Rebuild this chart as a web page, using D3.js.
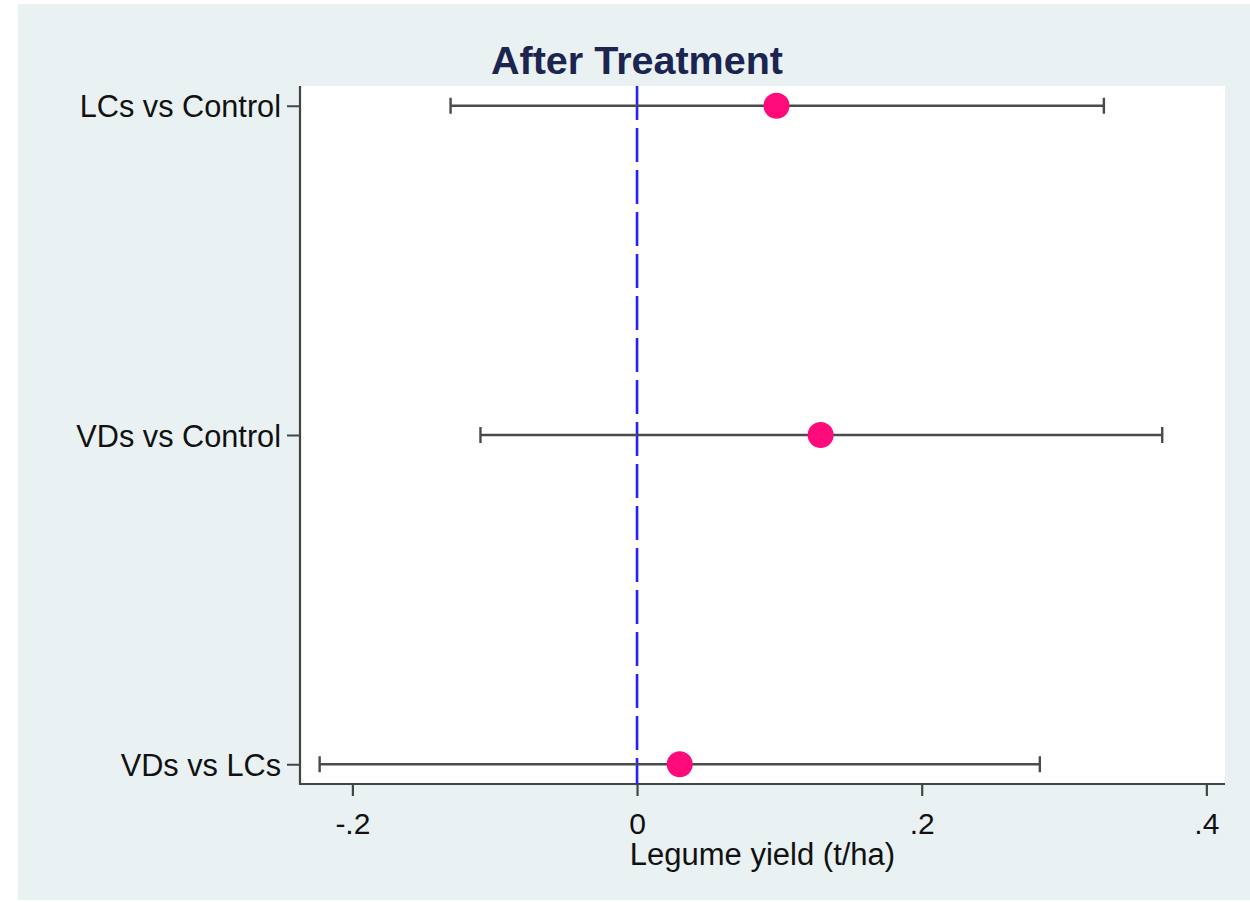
<!DOCTYPE html>
<html>
<head>
<meta charset="utf-8">
<script src="https://cdn.jsdelivr.net/npm/d3@7"></script>
<style>
  body { margin: 0; background: #fff; }
  text { font-family: "Liberation Sans", Arial, sans-serif; }
</style>
</head>
<body>
<div id="viz"></div>
<script>
// comparisons, point estimates and confidence bounds
var comparisons = ["LCs vs Control", "VDs vs Control", "VDs vs LCs"];
var estimates = [0.098, 0.129, 0.030];
var lower = [-0.131, -0.110, -0.223];
var upper = [0.328, 0.369, 0.283];
var xTicks = [-0.2, 0, 0.2, 0.4];

var width = 1250, height = 902;
var plot = {left: 300, right: 1225, top: 86, bottom: 784};

var svg = d3.select("#viz").append("svg")
    .attr("width", width)
    .attr("height", height);

// graph background
svg.append("rect")
    .attr("x", 18).attr("y", 4)
    .attr("width", width - 18).attr("height", 896)
    .attr("fill", "#e9f1f3");

svg.append("rect")
    .attr("x", plot.left).attr("y", plot.top)
    .attr("width", plot.right - plot.left).attr("height", plot.bottom - plot.top)
    .attr("fill", "#fff");

var x = d3.scaleLinear()
    .domain([-0.2368, 0.4131])
    .range([plot.left, plot.right]);

var y = d3.scalePoint()
    .domain(comparisons)
    .range([plot.top, plot.bottom])
    .padding(0.06);

var fmt = function(d) { return d === 0 ? "0" : String(d).replace("0.", "."); };

// x axis
var xAxis = svg.append("g")
    .attr("transform", "translate(0," + plot.bottom + ")")
    .call(d3.axisBottom(x).tickValues(xTicks).tickFormat(fmt).tickSize(12).tickPadding(17));
xAxis.select(".domain").remove();
xAxis.selectAll("line").attr("stroke", "#444").attr("stroke-width", 2.2);
xAxis.selectAll("text").attr("font-size", 30).attr("fill", "#111");

// y axis
var yAxis = svg.append("g")
    .attr("transform", "translate(" + plot.left + ",0)")
    .call(d3.axisLeft(y).tickSize(13).tickPadding(6));
yAxis.select(".domain").remove();
yAxis.selectAll("line").attr("stroke", "#444").attr("stroke-width", 2);
yAxis.selectAll("text").attr("font-size", 30.7).attr("fill", "#111").attr("dy", "0.36em");

// axis lines
svg.append("line")
    .attr("x1", plot.left).attr("x2", plot.left)
    .attr("y1", plot.top).attr("y2", plot.bottom + 1)
    .attr("stroke", "#444").attr("stroke-width", 2.2);
svg.append("line")
    .attr("x1", plot.left - 1).attr("x2", plot.right)
    .attr("y1", plot.bottom).attr("y2", plot.bottom)
    .attr("stroke", "#444").attr("stroke-width", 2.2);

// reference line at zero
svg.append("line")
    .attr("x1", x(0)).attr("x2", x(0))
    .attr("y1", plot.top).attr("y2", plot.bottom)
    .attr("stroke", "#2222ff").attr("stroke-width", 2.6)
    .attr("stroke-dasharray", "34,8");

// confidence intervals
var bars = svg.append("g").selectAll("g")
    .data(comparisons)
    .enter().append("g");

bars.append("line")
    .attr("x1", function(d, i) { return x(lower[i]); })
    .attr("x2", function(d, i) { return x(upper[i]); })
    .attr("y1", function(d) { return y(d); })
    .attr("y2", function(d) { return y(d); })
    .attr("stroke", "#4a4a4a").attr("stroke-width", 2.4);

[lower, upper].forEach(function(bound) {
    bars.append("line")
        .attr("x1", function(d, i) { return x(bound[i]); })
        .attr("x2", function(d, i) { return x(bound[i]); })
        .attr("y1", function(d) { return y(d) - 8; })
        .attr("y2", function(d) { return y(d) + 8; })
        .attr("stroke", "#4a4a4a").attr("stroke-width", 2.4);
});

bars.append("circle")
    .attr("cx", function(d, i) { return x(estimates[i]); })
    .attr("cy", function(d) { return y(d); })
    .attr("r", 13)
    .attr("fill", "#ff0a7a");

// titles
svg.append("text")
    .attr("x", 637).attr("y", 74)
    .attr("text-anchor", "middle")
    .attr("font-size", 39.5).attr("font-weight", "bold")
    .attr("fill", "#1b2550")
    .text("After Treatment");

svg.append("text")
    .attr("x", (plot.left + plot.right) / 2).attr("y", 865)
    .attr("text-anchor", "middle")
    .attr("font-size", 31).attr("fill", "#111")
    .text("Legume yield (t/ha)");
</script>
</body>
</html>
